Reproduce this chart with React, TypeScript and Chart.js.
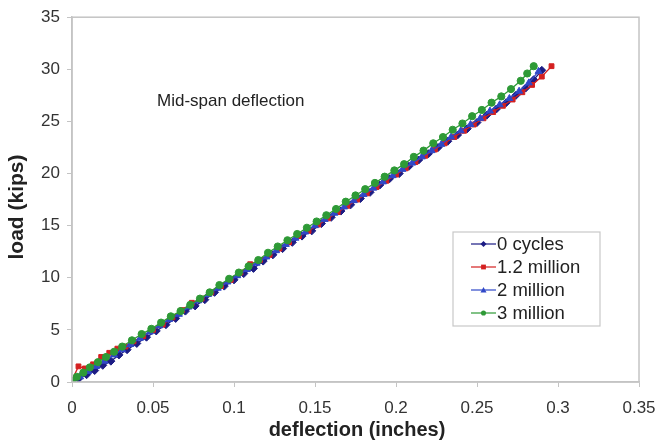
import React, { useEffect, useRef } from "react";
import { Chart, registerables } from "chart.js";

Chart.register(...registerables);

const seriesNames = ["0 cycles", "1.2 million", "2 million", "3 million"];
const xAxisTitle = "deflection (inches)";
const yAxisTitle = "load (kips)";
const annotation = "Mid-span deflection";

const cycles0X = [0, 0.004, 0.009, 0.014, 0.019, 0.024, 0.029, 0.034, 0.04, 0.046, 0.052, 0.058, 0.064, 0.07, 0.076, 0.082, 0.088, 0.094, 0.1, 0.106, 0.112, 0.118, 0.124, 0.13, 0.136, 0.142, 0.148, 0.154, 0.16, 0.166, 0.172, 0.178, 0.184, 0.19, 0.196, 0.202, 0.208, 0.214, 0.22, 0.226, 0.232, 0.238, 0.244, 0.25, 0.256, 0.262, 0.268, 0.274, 0.28, 0.285, 0.29];
const cycles0Y = [0, 0.3, 0.7, 1.1, 1.6, 2.0, 2.6, 3.1, 3.7, 4.3, 4.9, 5.5, 6.1, 6.8, 7.3, 7.9, 8.6, 9.2, 9.8, 10.4, 10.9, 11.6, 12.2, 12.8, 13.4, 14.0, 14.5, 15.2, 15.8, 16.4, 17.0, 17.6, 18.2, 18.9, 19.5, 20.0, 20.7, 21.3, 21.9, 22.5, 23.1, 23.7, 24.3, 24.9, 25.6, 26.2, 26.8, 27.5, 28.2, 29.0, 29.9];

const m12X = [0, 0.004, 0.008, 0.013, 0.018, 0.023, 0.028, 0.033, 0.038, 0.044, 0.05, 0.056, 0.062, 0.068, 0.074, 0.08, 0.086, 0.092, 0.098, 0.104, 0.11, 0.116, 0.122, 0.128, 0.134, 0.14, 0.146, 0.152, 0.158, 0.164, 0.17, 0.176, 0.182, 0.188, 0.194, 0.2, 0.206, 0.212, 0.218, 0.224, 0.23, 0.236, 0.242, 0.248, 0.254, 0.26, 0.266, 0.272, 0.278, 0.284, 0.29, 0.296];
const m12Y = [0.2, 1.5, 1.3, 1.7, 2.4, 2.8, 3.2, 3.4, 3.9, 4.4, 5.0, 5.5, 6.2, 6.9, 7.6, 8.0, 8.6, 9.2, 9.8, 10.5, 11.3, 11.7, 12.2, 12.8, 13.4, 14.0, 14.5, 15.1, 15.7, 16.3, 16.9, 17.5, 18.1, 18.7, 19.3, 19.9, 20.5, 21.1, 21.7, 22.3, 22.9, 23.5, 24.1, 24.7, 25.3, 25.9, 26.5, 27.1, 27.8, 28.5, 29.3, 30.3];

const m2X = [0, 0.005, 0.01, 0.015, 0.02, 0.026, 0.031, 0.036, 0.042, 0.048, 0.054, 0.06, 0.066, 0.072, 0.078, 0.084, 0.09, 0.096, 0.102, 0.108, 0.114, 0.12, 0.126, 0.132, 0.138, 0.144, 0.15, 0.156, 0.162, 0.168, 0.174, 0.18, 0.186, 0.192, 0.198, 0.204, 0.21, 0.216, 0.222, 0.228, 0.234, 0.24, 0.246, 0.252, 0.258, 0.264, 0.27, 0.276, 0.282, 0.288];
const m2Y = [0.1, 0.5, 1.0, 1.5, 2.0, 2.6, 3.1, 3.6, 4.2, 4.8, 5.4, 6.0, 6.5, 7.2, 7.8, 8.4, 9.0, 9.6, 10.2, 10.8, 11.4, 12.0, 12.6, 13.2, 13.8, 14.4, 15.0, 15.6, 16.2, 16.8, 17.4, 18.0, 18.6, 19.2, 19.8, 20.4, 21.0, 21.6, 22.2, 22.8, 23.5, 24.1, 24.7, 25.3, 26.0, 26.6, 27.2, 27.9, 28.7, 29.8];

const m3X = [0, 0.003, 0.007, 0.011, 0.016, 0.021, 0.026, 0.031, 0.037, 0.043, 0.049, 0.055, 0.061, 0.067, 0.073, 0.079, 0.085, 0.091, 0.097, 0.103, 0.109, 0.115, 0.121, 0.127, 0.133, 0.139, 0.145, 0.151, 0.157, 0.163, 0.169, 0.175, 0.181, 0.187, 0.193, 0.199, 0.205, 0.211, 0.217, 0.223, 0.229, 0.235, 0.241, 0.247, 0.253, 0.259, 0.265, 0.271, 0.277, 0.281, 0.285];
const m3Y = [0.1, 0.5, 0.9, 1.4, 1.9, 2.4, 2.9, 3.4, 4.0, 4.6, 5.1, 5.7, 6.3, 6.8, 7.4, 8.0, 8.6, 9.3, 9.9, 10.5, 11.1, 11.7, 12.4, 13.0, 13.6, 14.2, 14.8, 15.4, 16.0, 16.6, 17.3, 17.9, 18.5, 19.1, 19.7, 20.3, 20.9, 21.6, 22.2, 22.9, 23.5, 24.2, 24.8, 25.5, 26.1, 26.8, 27.4, 28.1, 28.9, 29.6, 30.3];

const xTicks = [0, 0.05, 0.1, 0.15, 0.2, 0.25, 0.3, 0.35];
const yTicks = [0, 5, 10, 15, 20, 25, 30, 35];

const colors = ["#1c1c84", "#d42020", "#3048c8", "#2e9a36"];
const pointStyles = ["rectRot", "rect", "triangle", "circle"];
const pointRadii = [4, 3.4, 4, 3.6];

const FONT = "Arial, 'Liberation Sans', Helvetica, sans-serif";

function toPoints(xs: number[], ys: number[]) {
  return xs.map((x, i) => ({ x, y: ys[i] }));
}

function drawMarker(ctx: CanvasRenderingContext2D, style: string, x: number, y: number, r: number) {
  ctx.beginPath();
  if (style === "rectRot") {
    ctx.moveTo(x, y - r);
    ctx.lineTo(x + r, y);
    ctx.lineTo(x, y + r);
    ctx.lineTo(x - r, y);
    ctx.closePath();
  } else if (style === "rect") {
    ctx.rect(x - r * 0.8, y - r * 0.8, r * 1.6, r * 1.6);
  } else if (style === "triangle") {
    ctx.moveTo(x, y - r);
    ctx.lineTo(x + r, y + r * 0.8);
    ctx.lineTo(x - r, y + r * 0.8);
    ctx.closePath();
  } else {
    ctx.arc(x, y, r * 0.85, 0, Math.PI * 2);
  }
  ctx.fill();
}

const overlayPlugin = {
  id: "overlay",
  afterDraw(chart: any) {
    const { ctx, chartArea } = chart;
    ctx.save();
    // plot border
    ctx.strokeStyle = "#c4c4c4";
    ctx.lineWidth = 1.5;
    ctx.strokeRect(chartArea.left, chartArea.top, chartArea.right - chartArea.left, chartArea.bottom - chartArea.top);
    // axis titles
    ctx.fillStyle = "#222";
    ctx.textBaseline = "middle";
    ctx.textAlign = "center";
    ctx.font = `bold 20px ${FONT}`;
    ctx.fillText(xAxisTitle, 357, 430);
    ctx.save();
    ctx.translate(17, 207);
    ctx.rotate(-Math.PI / 2);
    ctx.font = `bold 21px ${FONT}`;
    ctx.fillText(yAxisTitle, 0, 0);
    ctx.restore();
    // annotation text
    ctx.font = `17px ${FONT}`;
    ctx.textAlign = "left";
    ctx.fillText(annotation, 157, 101);
    // legend box
    const bx = 453, by = 232, bw = 147, bh = 94;
    ctx.fillStyle = "#ffffff";
    ctx.fillRect(bx, by, bw, bh);
    ctx.strokeStyle = "#c8c8c8";
    ctx.lineWidth = 1.2;
    ctx.strokeRect(bx, by, bw, bh);
    const rows = [244, 267, 290, 313];
    ctx.font = `18.5px ${FONT}`;
    seriesNames.forEach((name, i) => {
      const yy = rows[i];
      ctx.strokeStyle = colors[i];
      ctx.lineWidth = 1.2;
      ctx.beginPath();
      ctx.moveTo(471, yy);
      ctx.lineTo(496, yy);
      ctx.stroke();
      ctx.fillStyle = colors[i];
      drawMarker(ctx, pointStyles[i], 483.5, yy, 3);
      ctx.fillStyle = "#222";
      ctx.fillText(name, 497, yy + 1);
    });
    ctx.restore();
  },
};

export default function App() {
  const ref = useRef<HTMLCanvasElement>(null);
  useEffect(() => {
    if (!ref.current) return;
    const data = [
      toPoints(cycles0X, cycles0Y),
      toPoints(m12X, m12Y),
      toPoints(m2X, m2Y),
      toPoints(m3X, m3Y),
    ];
    const chart = new Chart(ref.current, {
      type: "scatter",
      data: {
        datasets: seriesNames.map((name, i) => ({
          label: name,
          data: data[i],
          showLine: true,
          borderColor: colors[i],
          backgroundColor: colors[i],
          borderWidth: 1.3,
          pointStyle: pointStyles[i] as any,
          pointRadius: pointRadii[i],
          pointBorderWidth: 1,
          order: 4 - i,
        })),
      },
      options: {
        responsive: false,
        animation: false,
        layout: { padding: { top: 16, right: 32, left: 0, bottom: 0 } },
        plugins: {
          legend: { display: false },
          tooltip: { enabled: false },
        },
        scales: {
          x: {
            type: "linear",
            min: 0,
            max: 0.35,
            afterBuildTicks: (s: any) => {
              s.ticks = xTicks.map((v) => ({ value: v }));
            },
            afterFit: (s: any) => {
              s.height = 60;
            },
            grid: { drawOnChartArea: false, drawTicks: true, tickLength: 5, color: "#c4c4c4" },
            border: { color: "#c4c4c4", width: 1.5 },
            ticks: {
              color: "#333",
              font: { family: FONT, size: 17 },
              padding: 11,
              maxRotation: 0,
              callback: (v: any) => String(v),
            },
            title: { display: false },
          },
          y: {
            type: "linear",
            min: 0,
            max: 35,
            afterBuildTicks: (s: any) => {
              s.ticks = yTicks.map((v) => ({ value: v }));
            },
            afterFit: (s: any) => {
              s.width = 72;
            },
            grid: { drawOnChartArea: false, drawTicks: true, tickLength: 5, color: "#c4c4c4" },
            border: { color: "#c4c4c4", width: 1.5 },
            ticks: {
              color: "#333",
              font: { family: FONT, size: 17 },
              padding: 7,
              callback: (v: any) => String(v),
            },
            title: { display: false },
          },
        },
      },
      plugins: [overlayPlugin],
    });
    return () => chart.destroy();
  }, []);
  return (
    <div style={{ position: "absolute", left: 0, top: 0, width: 671, height: 442, background: "#fff" }}>
      <canvas ref={ref} width={671} height={442} style={{ display: "block" }} />
    </div>
  );
}
